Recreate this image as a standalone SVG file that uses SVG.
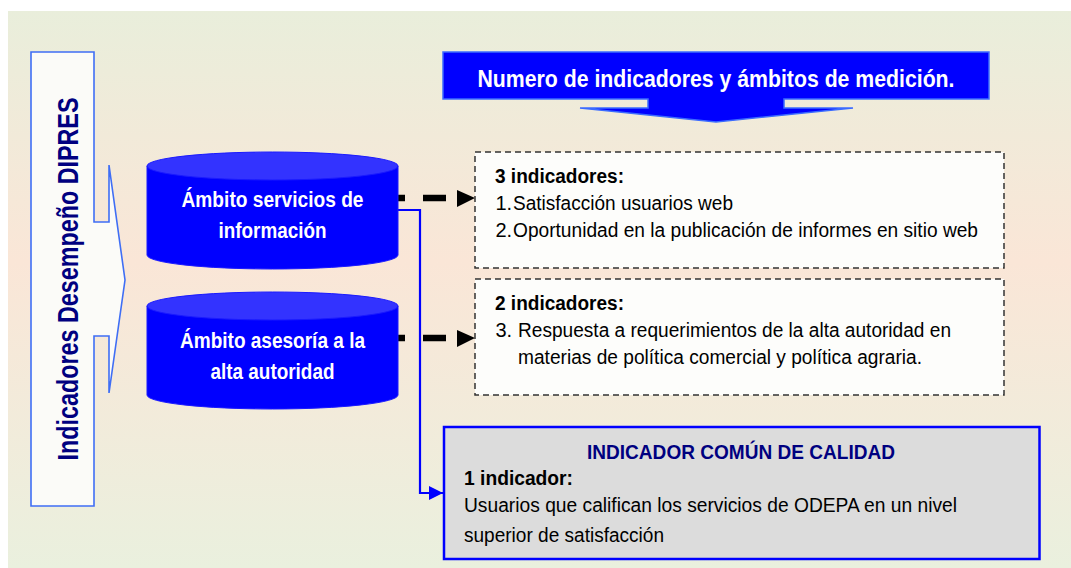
<svg xmlns="http://www.w3.org/2000/svg" width="1071" height="568" viewBox="0 0 1071 568">
<defs>
<linearGradient id="bg" x1="0" y1="0" x2="0" y2="1">
<stop offset="0" stop-color="#E9EEDB"/>
<stop offset="0.45" stop-color="#FAE6D7"/>
<stop offset="1" stop-color="#EAF0DE"/>
</linearGradient>
<marker id="ab" viewBox="0 0 10 10" refX="10" refY="5" markerWidth="15" markerHeight="14" markerUnits="userSpaceOnUse" orient="auto">
<path d="M0,0 L10,5 L0,10 Z" fill="#0000FF"/>
</marker>
</defs>
<style>
.cyl-body{fill:#0000FF;stroke:#1a1aff;stroke-width:1}
.cyl-top{fill:#3333FF;stroke:#1a1aff;stroke-width:1}
.wt{font-family:"Liberation Sans",Arial,sans-serif;font-weight:bold;fill:#FFFFFF;text-anchor:middle}
.box{fill:#FDFDFB;stroke:#333333;stroke-width:1.5;stroke-dasharray:6 4}
.tx{font-family:"Liberation Sans",Arial,sans-serif;font-size:20px;fill:#000000}
.b{font-weight:bold}
.dash{stroke:#000000;stroke-width:6.5;fill:none}
</style>
<rect x="0" y="0" width="1071" height="568" fill="#FFFFFF"/>
<rect x="8" y="11" width="1063" height="557" fill="url(#bg)"/>

<g id="dipres">
<path d="M31,52 H94 V222 H109 V165 L125,280 L109,393 V336 H94 V506 H31 Z" fill="#FBFBF8" stroke="#3F6EF5" stroke-width="1.6"/>
<text transform="translate(78,279) rotate(-90)" font-family="'Liberation Sans',Arial,sans-serif" font-weight="bold" font-size="29" fill="#000080" text-anchor="middle" textLength="363" lengthAdjust="spacingAndGlyphs">Indicadores Desempeño DIPRES</text>
</g>

<g id="banner">
<path d="M443,52 H989 V99 H784 V108 H853 L716,122 L580,108 H648 V99 H443 Z" fill="#0000FF" stroke="#3B6BFF" stroke-width="1.5"/>
<text x="716" y="87" class="wt" font-size="24" textLength="477" lengthAdjust="spacingAndGlyphs">Numero de indicadores y ámbitos de medición.</text>
</g>

<g id="connectors">
<line x1="398" y1="198" x2="405" y2="198" class="dash"/>
<line x1="423" y1="198" x2="446" y2="198" class="dash"/>
<path d="M457,190 L475,198 L457,207 Z" fill="#000000"/>
<line x1="398" y1="338" x2="405" y2="338" class="dash"/>
<line x1="423" y1="338" x2="446" y2="338" class="dash"/>
<path d="M457,330 L475,338 L457,347 Z" fill="#000000"/>
<path d="M398,210 H420 V493 H443" fill="none" stroke="#0000FF" stroke-width="2.2" marker-end="url(#ab)"/>
</g>

<g id="cyl1">
<path d="M147,166 V255 A125.5,14 0 0 0 398,255 V166 Z" class="cyl-body"/>
<ellipse cx="272.5" cy="166" rx="125.5" ry="14" class="cyl-top"/>
<text x="272.5" y="207" class="wt" font-size="22" textLength="182" lengthAdjust="spacingAndGlyphs">Ámbito servicios de</text>
<text x="272.5" y="238" class="wt" font-size="22" textLength="108" lengthAdjust="spacingAndGlyphs">información</text>
</g>

<g id="cyl2">
<path d="M147,306 V395 A125.5,14 0 0 0 398,395 V306 Z" class="cyl-body"/>
<ellipse cx="272.5" cy="306" rx="125.5" ry="14" class="cyl-top"/>
<text x="272.5" y="348" class="wt" font-size="22" textLength="185" lengthAdjust="spacingAndGlyphs">Ámbito asesoría a la</text>
<text x="272.5" y="379" class="wt" font-size="22" textLength="124" lengthAdjust="spacingAndGlyphs">alta autoridad</text>
</g>

<g id="box1">
<rect x="475" y="152" width="529" height="116" class="box"/>
<text x="495" y="183" class="tx b" textLength="129" lengthAdjust="spacingAndGlyphs">3 indicadores:</text>
<text x="495.5" y="210" class="tx">1.</text>
<text x="513" y="210" class="tx" textLength="220" lengthAdjust="spacingAndGlyphs">Satisfacción usuarios web</text>
<text x="495.5" y="237" class="tx">2.</text>
<text x="513" y="237" class="tx" textLength="465" lengthAdjust="spacingAndGlyphs">Oportunidad en la publicación de informes en sitio web</text>
</g>

<g id="box2">
<rect x="475" y="279" width="529" height="116" class="box"/>
<text x="495" y="310" class="tx b" textLength="129" lengthAdjust="spacingAndGlyphs">2 indicadores:</text>
<text x="495.5" y="337" class="tx">3.</text>
<text x="518" y="337" class="tx" textLength="433" lengthAdjust="spacingAndGlyphs">Respuesta a requerimientos de la alta autoridad en</text>
<text x="518" y="364" class="tx" textLength="404" lengthAdjust="spacingAndGlyphs">materias de política comercial y política agraria.</text>
</g>

<g id="calidad">
<rect x="444" y="427" width="595.5" height="132" fill="#DCDCDC" stroke="#0000FF" stroke-width="2.5"/>
<text x="741" y="459" font-family="'Liberation Sans',Arial,sans-serif" font-weight="bold" font-size="20" fill="#000080" text-anchor="middle" textLength="308" lengthAdjust="spacingAndGlyphs">INDICADOR COMÚN DE CALIDAD</text>
<text x="464" y="485" class="tx b" textLength="109" lengthAdjust="spacingAndGlyphs">1 indicador:</text>
<text x="464" y="512" class="tx" textLength="493" lengthAdjust="spacingAndGlyphs">Usuarios que califican los servicios de ODEPA en un nivel</text>
<text x="464" y="542" class="tx" textLength="200" lengthAdjust="spacingAndGlyphs">superior de satisfacción</text>
</g>
</svg>
